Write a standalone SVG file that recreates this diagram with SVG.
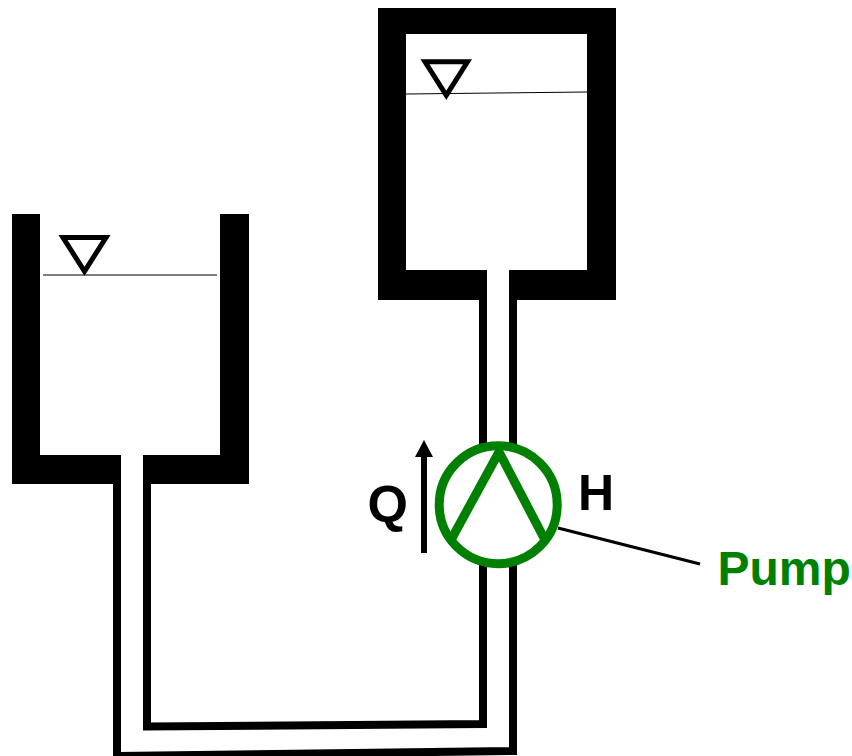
<svg xmlns="http://www.w3.org/2000/svg" width="852" height="756" viewBox="0 0 852 756">
<style>
.wall{fill:#000;stroke:none}
.pipe{fill:none;stroke:#000;stroke-width:8;stroke-linecap:butt;stroke-linejoin:miter}
.level{fill:none;stroke:#000;stroke-width:5}
.water{fill:none;stroke:#000;stroke-width:1;}
.g{fill:none;stroke:#008000;stroke-width:9}
text{font-family:"Liberation Sans",Arial,sans-serif;font-weight:bold;font-size:48px}
</style>
<rect width="852" height="756" fill="#fff"/>
<g id="connectors">
<path id="pipe-outer" class="pipe" d="M117 484V756L513 751V300"/>
<path id="pipe-inner" class="pipe" d="M147 484V726.500L483 724V300"/>
<line id="leader" x1="558" y1="528" x2="700" y2="564" stroke="#000" stroke-width="3"/>
</g>
<g id="tank-left">
<path class="wall" d="M12 214H40V455H121V484H12ZM220 214H249V484H143V455H220Z"/>
<line class="water" x1="43" y1="275" x2="217" y2="275"/>
<path class="level" d="M63 237.500H106L84.500 271.400Z"/>
</g>
<g id="tank-right">
<path class="wall" fill-rule="evenodd" d="M378 8H616V300H509V270H587V34H406V270H487V300H378Z"/>
<line class="water" x1="406" y1="94" x2="587" y2="92"/>
<path class="level" d="M425 61.800H467.500L446.300 95.400Z"/>
</g>
<g id="pump">
<circle class="g" cx="498.200" cy="504.700" r="59" style="fill:#fff"/>
<path class="g" d="M452 538L499 452L545 540"/>
</g>
<g id="flow">
<path d="M421 553V457H415L424 440L433 457H427V553Z" fill="#000"/>
<text x="367.500" y="521.500" style="font-size:52px">Q</text>
</g>
<text id="head" x="578" y="510" style="font-size:50px">H</text>
<text id="pump-label" x="717.500" y="585" fill="#008000">Pump</text>
</svg>
